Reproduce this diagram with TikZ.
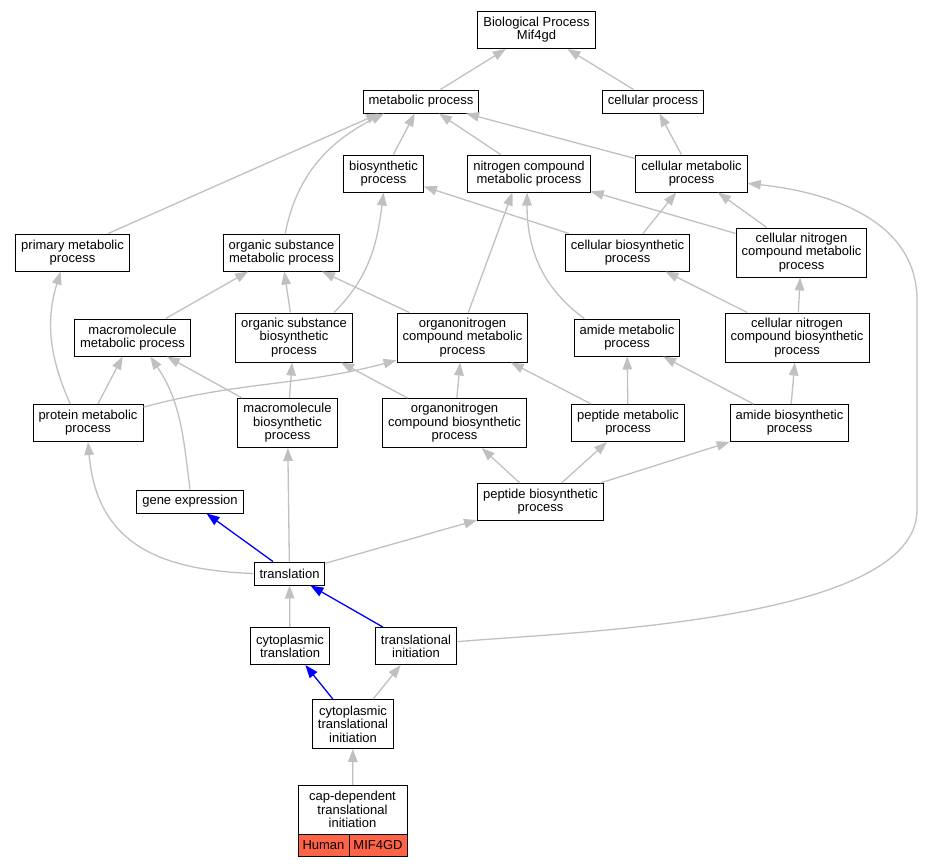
\documentclass[tikz,border=0pt]{standalone}
\usepackage{fontspec}
\setmainfont{Liberation Sans}
\usetikzlibrary{arrows.meta}
\definecolor{isagray}{RGB}{192,192,192}
\definecolor{hitblue}{RGB}{0,0,255}
\definecolor{tomato}{RGB}{255,99,71}
\tikzset{
    goterm/.style={draw=black, line width=1pt, fill=white, align=center,
        inner xsep=5.5pt, inner ysep=1pt, minimum height=23pt,
        font=\fontsize{13}{13}\selectfont},
    two/.style={minimum height=37pt},
    three/.style={minimum height=49pt, font=\fontsize{13}{13.5}\selectfont},
    species/.style={goterm, fill=tomato, minimum height=22pt, inner xsep=0.5pt,
        outer sep=0pt, anchor=north west},
    isa/.style={draw=isagray, line width=1.3pt, -{Triangle[length=13pt,width=9.5pt]}},
    hit/.style={isa, draw=hitblue},
}

\begin{document}
\begin{tikzpicture}[x=1pt, y=1pt]
\useasboundingbox (0,0) rectangle (925,-867);

% Top levels
\node[goterm,two] (bp)      at (536.5,-30)    {Biological Process\\Mif4gd};
\node[goterm]     (met)     at (421,-101.5)   {metabolic process};
\node[goterm]     (cell)    at (653,-101.5)   {cellular process};
\node[goterm,two] (bios)    at (383.5,-173.5) {biosynthetic\\process};
\node[goterm,two] (ncm)     at (529,-173.5)   {nitrogen compound\\metabolic process};
\node[goterm,two] (cellmet) at (691.5,-173.5) {cellular metabolic\\process};

% Middle levels
\node[goterm,two]   (prim)    at (72.5,-252.5)  {primary metabolic\\process};
\node[goterm,two]   (osm)     at (281.5,-252.5) {organic substance\\metabolic process};
\node[goterm,two]   (cellbio) at (627.5,-252.5) {cellular biosynthetic\\process};
\node[goterm,three] (cncm)    at (801.5,-252.5) {cellular nitrogen\\compound metabolic\\process};
\node[goterm,two]   (macmet)  at (132.5,-337.5) {macromolecule\\metabolic process};
\node[goterm,three] (osb)     at (294,-337.5)   {organic substance\\biosynthetic\\process};
\node[goterm,three] (onm)     at (462.5,-337.5) {organonitrogen\\compound metabolic\\process};
\node[goterm,two]   (amidem)  at (627,-337.5)   {amide metabolic\\process};
\node[goterm,three] (cncb)    at (797,-337.5)   {cellular nitrogen\\compound biosynthetic\\process};
\node[goterm,two]   (protm)   at (88,-423)      {protein metabolic\\process};
\node[goterm,three] (macbio)  at (287.5,-423)   {macromolecule\\biosynthetic\\process};
\node[goterm,three] (onb)     at (454.5,-423)   {organonitrogen\\compound biosynthetic\\process};
\node[goterm,two]   (pepm)    at (628,-423)     {peptide metabolic\\process};
\node[goterm,two]   (amideb)  at (789.5,-423)   {amide biosynthetic\\process};

% Lower levels
\node[goterm]       (geneexp) at (190,-501.5)   {gene expression};
\node[goterm,two]   (pepb)    at (540.5,-502)   {peptide biosynthetic\\process};
\node[goterm]       (transl)  at (289.5,-573.5) {translation};
\node[goterm,two]   (cyto)    at (290,-646)     {cytoplasmic\\translation};
\node[goterm,two]   (tinit)   at (416,-646)     {translational\\initiation};
\node[goterm,three] (ctinit)  at (353,-724)     {cytoplasmic\\translational\\initiation};

% The annotated term with its species row
\node[goterm,three,minimum width=109pt,outer sep=0pt] (cap) at (352.5,-809.5) {cap-dependent\\translational\\initiation};
\node[species,minimum width=51pt] (human) at (cap.south west) {Human};
\node[species,minimum width=58pt] (gene)  at (human.north east) {MIF4GD};

\coordinate (rimlow)  at (917,-510);
\coordinate (rimhigh) at (917,-300);

% is_a edges, top part
\draw[isa] (met) -- (bp);
\draw[isa] (cell) -- (bp);
\draw[isa] (bios) -- (met);
\draw[isa] (ncm) -- (met);
\draw[isa] (cellmet) -- (met);
\draw[isa] (cellmet) -- (cell);
\draw[isa] (prim.28) -- (met.196);
\draw[isa] (osm.79) to[out=79,in=207] (met.198);
\draw[isa] (cellbio) -- (bios);
\draw[isa] (cellbio) -- (cellmet);
\draw[isa] (cncm) -- (ncm);
\draw[isa] (cncm) -- (cellmet);
\draw[isa] (tinit.6) to[out=5,in=-90,looseness=0.6] (rimlow) -- (rimhigh)
    to[out=90,in=-6] (cellmet.-10);

% is_a edges, middle part
\draw[isa] (macmet) -- (osm);
\draw[isa] (osb) -- (osm);
\draw[isa] (onm) -- (osm);
\draw[isa] (osb.32) to[out=45,in=-97] (bios.south);
\draw[isa] (onm.77) -- (ncm.229);
\draw[isa] (amidem.156) to[out=144,in=-90] (ncm.264);
\draw[isa] (cncb) -- (cellbio);
\draw[isa] (cncb) -- (cncm);
\draw[isa] (protm.133) to[out=114,in=-107] (prim.238);
\draw[isa] (protm) -- (macmet);
\draw[isa] (protm.16) to[out=15,in=195] (onm.199);
\draw[isa] (geneexp.north) to[out=97,in=-56] (macmet.313);
\draw[isa] (macbio) -- (macmet);
\draw[isa] (macbio) -- (osb);
\draw[isa] (onb) -- (osb);
\draw[isa] (onb) -- (onm);
\draw[isa] (pepm) -- (onm);
\draw[isa] (pepm) -- (amidem);
\draw[isa] (amideb) -- (amidem);
\draw[isa] (amideb) -- (cncb);
\draw[isa] (pepb) -- (onb);
\draw[isa] (pepb) -- (pepm);
\draw[isa] (pepb) -- (amideb);

% is_a edges, bottom part
\draw[isa] (transl.west) to[out=178,in=-85,looseness=1.2] (protm.south);
\draw[hit] (transl) -- (geneexp);
\draw[isa] (transl) -- (macbio);
\draw[isa] (transl) -- (pepb);
\draw[isa] (cyto) -- (transl);
\draw[hit] (tinit) -- (transl);
\draw[hit] (ctinit) -- (cyto);
\draw[isa] (ctinit) -- (tinit);
\draw[isa] (cap) -- (ctinit);

\end{tikzpicture}
\end{document}
